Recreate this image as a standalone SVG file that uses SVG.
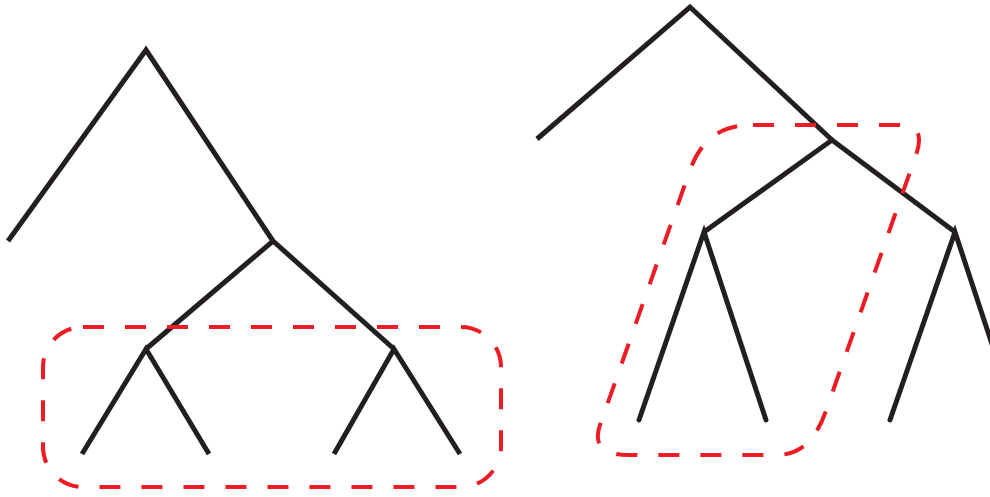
<svg xmlns="http://www.w3.org/2000/svg" width="990" height="497" viewBox="0 0 990 497">
<style>
.edge{fill:none;stroke:#231f20;stroke-width:5;stroke-linejoin:miter;stroke-linecap:butt}
.r{stroke-linecap:round}
.group{fill:none;stroke:#ed1c24;stroke-width:4;stroke-dasharray:21 21}
</style>
<rect width="990" height="497" fill="#fff"/>
<g id="connectors">
<g id="left-tree">
<polyline class="edge" points="8,241 146,50 273,241"/>
<polyline class="edge" points="146,349 273,241 394,349"/>
<polyline class="edge" points="82,454 146,349 209,454"/>
<polyline class="edge" points="334,454 394,349 460,454"/>
</g>
<g id="right-tree">
<polyline class="edge" points="537,139 690,7 832,140"/>
<polyline class="edge" points="704,232 832,140 955,232"/>
<polyline class="edge r" points="639,420 704,232 766,420"/>
<polyline class="edge r" points="890,420 955,232 1017,420"/>
</g>
</g>
<g id="left-group">
<rect class="group" x="43" y="327" width="458" height="160" rx="40" ry="40"/>
</g>
<g id="right-group">
<path class="group" d="M753,125 L902,125 C920,125 922,138 916,155 L828,405 C818,436 804,455 776,455 L628,455 C603,455 593,445 600,425 L690,170 C701,140 720,125 753,125 Z"/>
</g>
</svg>
